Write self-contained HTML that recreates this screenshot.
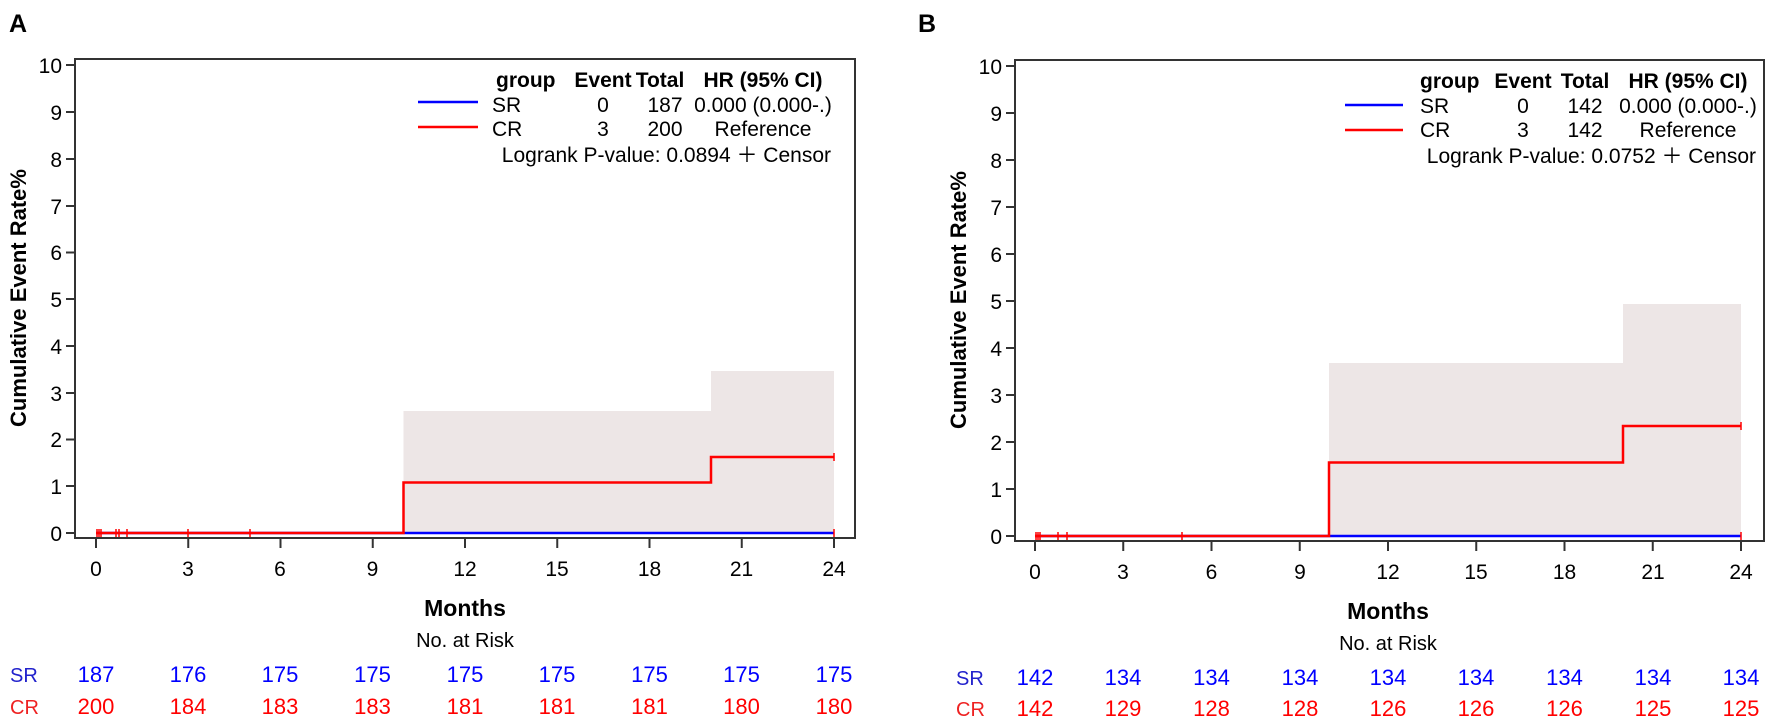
<!DOCTYPE html>
<html><head><meta charset="utf-8"><style>body{margin:0;background:#fff}svg{display:block}text{font-family:"Liberation Sans",sans-serif}</style></head><body>
<svg width="1772" height="723" xmlns="http://www.w3.org/2000/svg">
<g id="A">
<text x="9" y="32" font-size="25" font-weight="bold">A</text>
<rect x="403.5" y="411" width="307.5" height="122" fill="#ede6e6"/>
<rect x="711" y="371" width="123" height="162" fill="#ede6e6"/>
<path d="M75 59V538H855V59Z" fill="none" stroke="#333" stroke-width="2"/>
<line x1="96" y1="533" x2="834" y2="533" stroke="#00f" stroke-width="2.5"/>
<path d="M96 533H403.5V482.5H711V457H834" fill="none" stroke="#f00" stroke-width="2.5"/>
<path d="M97 529v8M99 529v8M101 529v8M116 529v8M119 529v8M127 529v8M188 529v8M250 529v8" stroke="#f00" stroke-width="1.5"/>
<path d="M834 453v8M834 529v8" stroke="#f00" stroke-width="1.5"/>
<g stroke="#333" stroke-width="2">
<path d="M66 533h9M66 486h9M66 439.5h9M66 393h9M66 346h9M66 299h9M66 252.5h9M66 206h9M66 159h9M66 112h9M66 65h9"/>
<path d="M96 538v10M188.25 538v10M280.5 538v10M372.75 538v10M465 538v10M557.25 538v10M649.5 538v10M741.75 538v10M834 538v10"/>
</g>
<g font-size="21" text-anchor="end">
<text x="62" y="541">0</text><text x="62" y="494">1</text><text x="62" y="447">2</text><text x="62" y="401">3</text><text x="62" y="354">4</text><text x="62" y="307">5</text><text x="62" y="260">6</text><text x="62" y="214">7</text><text x="62" y="167">8</text><text x="62" y="120">9</text><text x="62" y="73">10</text>
</g>
<g font-size="21" text-anchor="middle">
<text x="96" y="576">0</text><text x="188" y="576">3</text><text x="280" y="576">6</text><text x="372.5" y="576">9</text><text x="465" y="576">12</text><text x="557" y="576">15</text><text x="649.5" y="576">18</text><text x="741.5" y="576">21</text><text x="834" y="576">24</text>
</g>
<text transform="translate(26,298) rotate(-90)" font-size="22" font-weight="bold" text-anchor="middle">Cumulative Event Rate%</text>
<text x="465" y="616" font-size="23" font-weight="bold" text-anchor="middle">Months</text>
<text x="465" y="647" font-size="20" text-anchor="middle">No. at Risk</text>
<line x1="418" y1="102" x2="478" y2="102" stroke="#00f" stroke-width="2.5"/>
<line x1="418" y1="127" x2="478" y2="127" stroke="#f00" stroke-width="2.5"/>
<g font-size="21">
<text x="496" y="87" font-weight="bold">group</text>
<text x="603" y="87" font-weight="bold" text-anchor="middle">Event</text>
<text x="660" y="87" font-weight="bold" text-anchor="middle">Total</text>
<text x="763" y="87" font-weight="bold" text-anchor="middle">HR (95% CI)</text>
<text x="492" y="112">SR</text><text x="603" y="112" text-anchor="middle">0</text><text x="665" y="112" text-anchor="middle">187</text><text x="763" y="112" text-anchor="middle">0.000 (0.000-.)</text>
<text x="492" y="136">CR</text><text x="603" y="136" text-anchor="middle">3</text><text x="665" y="136" text-anchor="middle">200</text><text x="763" y="136" text-anchor="middle">Reference</text>
<text x="831" y="162" text-anchor="end">Logrank P-value: 0.0894 ＋ Censor</text>
</g>
<g font-size="22" text-anchor="middle" fill="#00f">
<text x="10" y="682" text-anchor="start" font-size="20" fill="#22c">SR</text>
<text x="96" y="682">187</text><text x="188" y="682">176</text><text x="280" y="682">175</text><text x="372.5" y="682">175</text><text x="465" y="682">175</text><text x="557" y="682">175</text><text x="649.5" y="682">175</text><text x="741.5" y="682">175</text><text x="834" y="682">175</text>
</g>
<g font-size="22" text-anchor="middle" fill="#f00">
<text x="10" y="714" text-anchor="start" font-size="20" fill="#e22">CR</text>
<text x="96" y="714">200</text><text x="188" y="714">184</text><text x="280" y="714">183</text><text x="372.5" y="714">183</text><text x="465" y="714">181</text><text x="557" y="714">181</text><text x="649.5" y="714">181</text><text x="741.5" y="714">180</text><text x="834" y="714">180</text>
</g>
</g>
<g id="B">
<text x="918" y="32" font-size="25" font-weight="bold">B</text>
<rect x="1329" y="363" width="294" height="173" fill="#ede6e6"/>
<rect x="1623" y="304" width="118" height="232" fill="#ede6e6"/>
<path d="M1015 60V541H1764V60Z" fill="none" stroke="#333" stroke-width="2"/>
<line x1="1035" y1="536" x2="1741" y2="536" stroke="#00f" stroke-width="2.5"/>
<path d="M1035 536H1329V462.5H1623V426H1741" fill="none" stroke="#f00" stroke-width="2.5"/>
<path d="M1036 532v8M1038 532v8M1040 532v8M1058 532v8M1067 532v8M1182 532v8" stroke="#f00" stroke-width="1.5"/>
<path d="M1741 422v8M1741 532v8" stroke="#f00" stroke-width="1.5"/>
<g stroke="#333" stroke-width="2">
<path d="M1006 536h9M1006 489h9M1006 442h9M1006 395h9M1006 348h9M1006 301h9M1006 254h9M1006 207h9M1006 160h9M1006 113h9M1006 66h9"/>
<path d="M1035 541v10M1123.25 541v10M1211.5 541v10M1299.75 541v10M1388 541v10M1476.25 541v10M1564.5 541v10M1652.75 541v10M1741 541v10"/>
</g>
<g font-size="21" text-anchor="end">
<text x="1002" y="544">0</text><text x="1002" y="497">1</text><text x="1002" y="450">2</text><text x="1002" y="403">3</text><text x="1002" y="356">4</text><text x="1002" y="309">5</text><text x="1002" y="262">6</text><text x="1002" y="215">7</text><text x="1002" y="168">8</text><text x="1002" y="121">9</text><text x="1002" y="74">10</text>
</g>
<g font-size="21" text-anchor="middle">
<text x="1035" y="579">0</text><text x="1123" y="579">3</text><text x="1211.5" y="579">6</text><text x="1300" y="579">9</text><text x="1388" y="579">12</text><text x="1476" y="579">15</text><text x="1564.5" y="579">18</text><text x="1653" y="579">21</text><text x="1741" y="579">24</text>
</g>
<text transform="translate(966,300) rotate(-90)" font-size="22" font-weight="bold" text-anchor="middle">Cumulative Event Rate%</text>
<text x="1388" y="619" font-size="23" font-weight="bold" text-anchor="middle">Months</text>
<text x="1388" y="650" font-size="20" text-anchor="middle">No. at Risk</text>
<line x1="1345" y1="105" x2="1403" y2="105" stroke="#00f" stroke-width="2.5"/>
<line x1="1345" y1="130" x2="1403" y2="130" stroke="#f00" stroke-width="2.5"/>
<g font-size="21">
<text x="1420" y="88" font-weight="bold">group</text>
<text x="1523" y="88" font-weight="bold" text-anchor="middle">Event</text>
<text x="1585" y="88" font-weight="bold" text-anchor="middle">Total</text>
<text x="1688" y="88" font-weight="bold" text-anchor="middle">HR (95% CI)</text>
<text x="1420" y="113">SR</text><text x="1523" y="113" text-anchor="middle">0</text><text x="1585" y="113" text-anchor="middle">142</text><text x="1688" y="113" text-anchor="middle">0.000 (0.000-.)</text>
<text x="1420" y="137">CR</text><text x="1523" y="137" text-anchor="middle">3</text><text x="1585" y="137" text-anchor="middle">142</text><text x="1688" y="137" text-anchor="middle">Reference</text>
<text x="1756" y="163" text-anchor="end">Logrank P-value: 0.0752 ＋ Censor</text>
</g>
<g font-size="22" text-anchor="middle" fill="#00f">
<text x="956" y="685" text-anchor="start" font-size="20" fill="#22c">SR</text>
<text x="1035" y="685">142</text><text x="1123" y="685">134</text><text x="1211.5" y="685">134</text><text x="1300" y="685">134</text><text x="1388" y="685">134</text><text x="1476" y="685">134</text><text x="1564.5" y="685">134</text><text x="1653" y="685">134</text><text x="1741" y="685">134</text>
</g>
<g font-size="22" text-anchor="middle" fill="#f00">
<text x="956" y="716" text-anchor="start" font-size="20" fill="#e22">CR</text>
<text x="1035" y="716">142</text><text x="1123" y="716">129</text><text x="1211.5" y="716">128</text><text x="1300" y="716">128</text><text x="1388" y="716">126</text><text x="1476" y="716">126</text><text x="1564.5" y="716">126</text><text x="1653" y="716">125</text><text x="1741" y="716">125</text>
</g>
</g>
</svg>
</body></html>
